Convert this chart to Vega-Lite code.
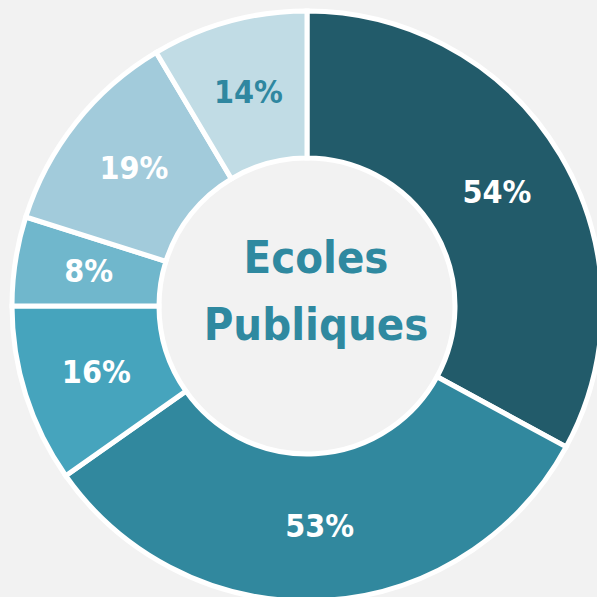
{
  "$schema": "https://vega.github.io/schema/vega-lite/v6.json",
  "width": 614,
  "height": 612,
  "padding": 0,
  "autosize": "none",
  "background": "#f2f2f2",
  "config": {"view": {"stroke": null}},
  "data": {"values": [
    {"label": "54%", "value": 54, "k": 1},
    {"label": "53%", "value": 53, "k": 2},
    {"label": "16%", "value": 16, "k": 3},
    {"label": "8%", "value": 8, "k": 4},
    {"label": "19%", "value": 19, "k": 5},
    {"label": "14%", "value": 14, "k": 6}
  ]},
  "layer": [
    {
      "mark": {"type": "arc", "outerRadius": 295, "innerRadius": 148, "stroke": "white", "strokeWidth": 5},
      "encoding": {
        "theta": {"field": "value", "type": "quantitative", "stack": true},
        "order": {"field": "k", "type": "quantitative"},
        "color": {"field": "k", "type": "ordinal", "legend": null,
          "scale": {"domain": [1,2,3,4,5,6], "range": ["#225b6a", "#31889e", "#46a4bd", "#70b7cc", "#a2cbdb", "#c1dce5"]}}
      }
    },
    {
      "mark": {"type": "text", "radius": 221, "font": "DejaVu Sans Condensed, Roboto, sans-serif", "fontWeight": "bold", "fontSize": 32, "baseline": "middle", "align": "center"},
      "encoding": {
        "theta": {"field": "value", "type": "quantitative", "stack": true},
        "order": {"field": "k", "type": "quantitative"},
        "text": {"field": "label"},
        "color": {"condition": {"test": "datum.k == 6", "value": "#2f87a0"}, "value": "white"}
      }
    },
    {
      "data": {"values": [{"t": "Ecoles\nPubliques"}]},
      "mark": {"type": "text", "lineBreak": "\n", "font": "DejaVu Sans Condensed, Roboto, sans-serif", "fontWeight": "bold", "fontSize": 45, "lineHeight": 67, "baseline": "middle", "align": "center", "dx": 9, "dy": -47, "color": "#2f89a0"},
      "encoding": {"text": {"field": "t"}}
    }
  ]
}
